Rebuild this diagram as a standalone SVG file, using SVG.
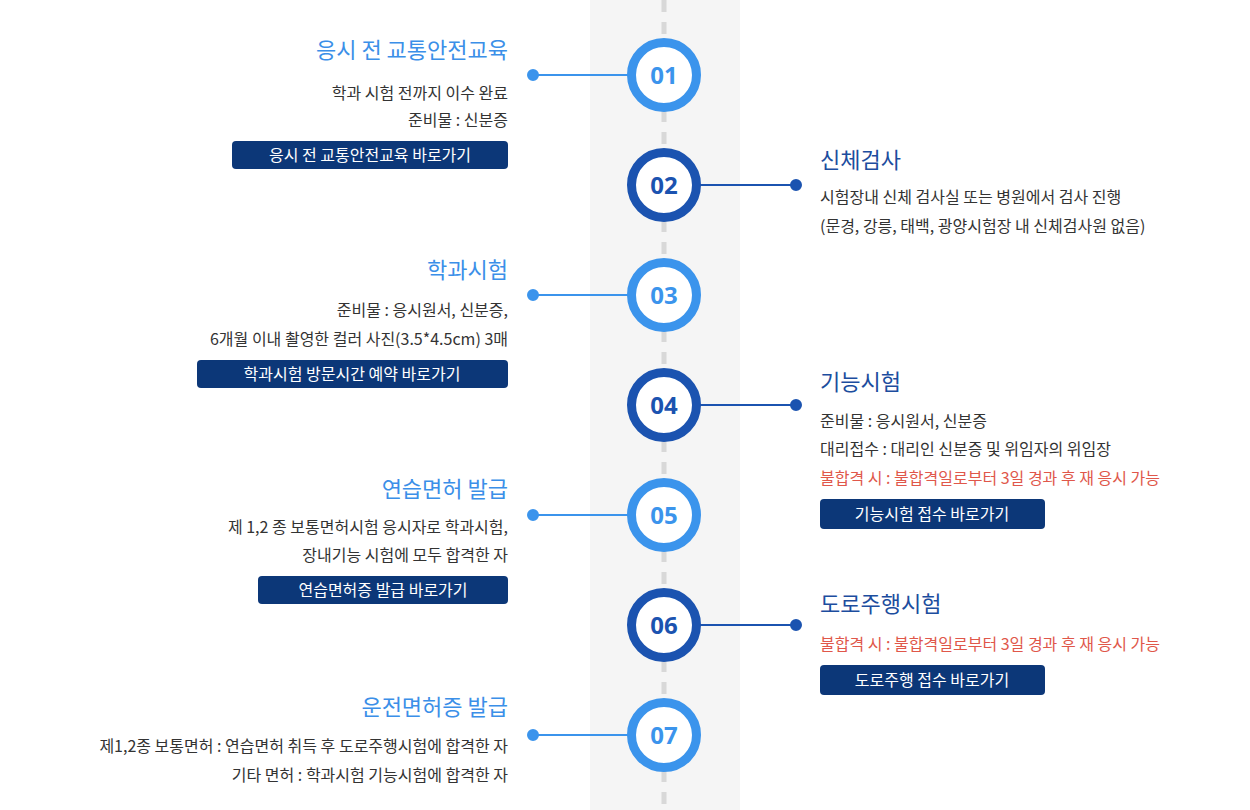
<svg xmlns="http://www.w3.org/2000/svg" width="1250" height="810" viewBox="0 0 1250 810">
<defs>
<style>
.t{font-family:"Noto Sans CJK KR","Noto Sans",sans-serif}
.tl{font-size:22px;fill:#3b8fe8;text-anchor:end}
.tr{font-size:22px;fill:#1c4d9e}
.b{font-size:16px;fill:#333}
.red{font-size:16px;fill:#e0574a}
.btn{fill:#0c3778}
.bt{font-size:16px;fill:#fff;text-anchor:middle}
.nl{font-family:"Noto Sans","Open Sans",sans-serif;font-size:24px;font-weight:bold;text-anchor:middle;fill:#3b94ec}
.nd{font-family:"Noto Sans","Open Sans",sans-serif;font-size:24px;font-weight:bold;text-anchor:middle;fill:#1b53b0}
</style>
</defs>
<rect width="1250" height="810" fill="#fff"/>
<rect x="590" y="0" width="150" height="810" fill="#f5f5f5"/>
<line x1="664" y1="0" x2="664" y2="810" stroke="#d8d8d8" stroke-width="5" stroke-dasharray="12,10"/>
<g id="connectors">
<g stroke="#3b94ec" stroke-width="2" fill="#3b94ec">
<line x1="533" y1="75" x2="630" y2="75"/><circle cx="533" cy="75" r="5"/>
<line x1="533" y1="295" x2="630" y2="295"/><circle cx="533" cy="295" r="5"/>
<line x1="533" y1="515" x2="630" y2="515"/><circle cx="533" cy="515" r="5"/>
<line x1="533" y1="735" x2="630" y2="735"/><circle cx="533" cy="735" r="5"/>
</g>
<g stroke="#1b53b0" stroke-width="2" fill="#1b53b0">
<line x1="698" y1="185" x2="796" y2="185"/><circle cx="796" cy="185" r="5"/>
<line x1="698" y1="405" x2="796" y2="405"/><circle cx="796" cy="405" r="5"/>
<line x1="698" y1="625" x2="796" y2="625"/><circle cx="796" cy="625" r="5"/>
</g>
</g>
<g id="n01"><circle cx="664" cy="75" r="32.5" fill="#fff" stroke="#3b94ec" stroke-width="9"/><text class="nl" x="664" y="84">01</text>
<text class="t tl" x="508" y="58">응시 전 교통안전교육</text>
<text class="t b" x="508" y="99" text-anchor="end">학과 시험 전까지 이수 완료</text>
<text class="t b" x="508" y="126" text-anchor="end">준비물 : 신분증</text>
<rect class="btn" x="232" y="141" width="276" height="28" rx="4"/><text class="t bt" x="370" y="161">응시 전 교통안전교육 바로가기</text></g>
<g id="n02"><circle cx="664" cy="185" r="32.5" fill="#fff" stroke="#1b53b0" stroke-width="9"/><text class="nd" x="664" y="194">02</text>
<text class="t tr" x="820" y="168">신체검사</text>
<text class="t b" x="820" y="203">시험장내 신체 검사실 또는 병원에서 검사 진행</text>
<text class="t b" x="820" y="232">(문경, 강릉, 태백, 광양시험장 내 신체검사원 없음)</text></g>
<g id="n03"><circle cx="664" cy="295" r="32.5" fill="#fff" stroke="#3b94ec" stroke-width="9"/><text class="nl" x="664" y="304">03</text>
<text class="t tl" x="508" y="278">학과시험</text>
<text class="t b" x="508" y="316" text-anchor="end">준비물 : 응시원서, 신분증,</text>
<text class="t b" x="508" y="345" text-anchor="end">6개월 이내 촬영한 컬러 사진(3.5*4.5cm) 3매</text>
<rect class="btn" x="197" y="360" width="311" height="28" rx="4"/><text class="t bt" x="352" y="380">학과시험 방문시간 예약 바로가기</text></g>
<g id="n04"><circle cx="664" cy="405" r="32.5" fill="#fff" stroke="#1b53b0" stroke-width="9"/><text class="nd" x="664" y="414">04</text>
<text class="t tr" x="820" y="390">기능시험</text>
<text class="t b" x="820" y="427">준비물 : 응시원서, 신분증</text>
<text class="t b" x="820" y="455">대리접수 : 대리인 신분증 및 위임자의 위임장</text>
<text class="t red" x="820" y="484">불합격 시 : 불합격일로부터 3일 경과 후 재 응시 가능</text>
<rect class="btn" x="820" y="499" width="225" height="30" rx="4"/><text class="t bt" x="932" y="520">기능시험 접수 바로가기</text></g>
<g id="n05"><circle cx="664" cy="515" r="32.5" fill="#fff" stroke="#3b94ec" stroke-width="9"/><text class="nl" x="664" y="524">05</text>
<text class="t tl" x="508" y="497">연습면허 발급</text>
<text class="t b" x="508" y="533" text-anchor="end">제 1,2 종 보통면허시험 응시자로 학과시험,</text>
<text class="t b" x="508" y="561" text-anchor="end">장내기능 시험에 모두 합격한 자</text>
<rect class="btn" x="258" y="576" width="250" height="28" rx="4"/><text class="t bt" x="383" y="596">연습면허증 발급 바로가기</text></g>
<g id="n06"><circle cx="664" cy="625" r="32.5" fill="#fff" stroke="#1b53b0" stroke-width="9"/><text class="nd" x="664" y="634">06</text>
<text class="t tr" x="820" y="612">도로주행시험</text>
<text class="t red" x="820" y="650">불합격 시 : 불합격일로부터 3일 경과 후 재 응시 가능</text>
<rect class="btn" x="820" y="665" width="225" height="30" rx="4"/><text class="t bt" x="932" y="686">도로주행 접수 바로가기</text></g>
<g id="n07"><circle cx="664" cy="735" r="32.5" fill="#fff" stroke="#3b94ec" stroke-width="9"/><text class="nl" x="664" y="744">07</text>
<text class="t tl" x="508" y="715">운전면허증 발급</text>
<text class="t b" x="508" y="752" text-anchor="end">제1,2종 보통면허 : 연습면허 취득 후 도로주행시험에 합격한 자</text>
<text class="t b" x="508" y="781" text-anchor="end">기타 면허 : 학과시험 기능시험에 합격한 자</text></g>
</svg>
